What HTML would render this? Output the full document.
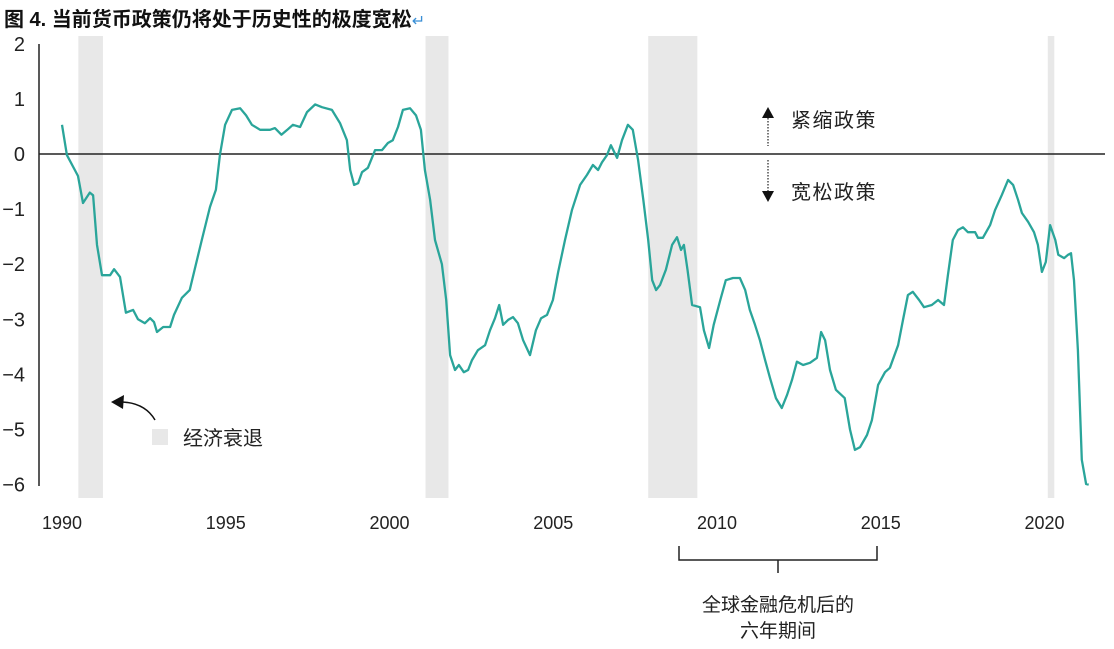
<!DOCTYPE html>
<html><head><meta charset="utf-8"><style>
body{margin:0;background:#fff;width:1114px;height:644px;overflow:hidden;font-family:"Liberation Sans","Noto Sans CJK SC",sans-serif;}
svg text{font-family:"Liberation Sans","Noto Sans CJK SC",sans-serif;}
</style></head><body>
<svg id="chart" width="1114" height="644" viewBox="0 0 1114 644" xmlns="http://www.w3.org/2000/svg">
<text x="4" y="26" font-size="20" font-weight="bold" fill="#111">图 4. 当前货币政策仍将处于历史性的极度宽松<tspan fill="#3a8fd6" font-weight="normal" font-size="16">↵</tspan></text>
<g id="bands"></g>
<line x1="39" y1="44" x2="39" y2="486" stroke="#222" stroke-width="1.5"/>
<line x1="39" y1="154" x2="1105" y2="154" stroke="#222" stroke-width="1.5"/>
<g id="yticks"></g>
<g id="xticks"></g>
<path id="line" fill="none" stroke="#2aa59a" stroke-width="2.3" stroke-linejoin="round"/>
<g>
<line x1="768" y1="118" x2="768" y2="146" stroke="#222" stroke-width="1.2" stroke-dasharray="1.5,1.5"/>
<polygon points="762,118 774,118 768,107" fill="#111"/>
<text x="791" y="127" font-size="20" letter-spacing="1.5" fill="#222">紧缩政策</text>
</g>
<g>
<line x1="768" y1="160" x2="768" y2="191" stroke="#222" stroke-width="1.2" stroke-dasharray="1.5,1.5"/>
<polygon points="762,191 774,191 768,202" fill="#111"/>
<text x="791" y="199" font-size="20" letter-spacing="1.5" fill="#222">宽松政策</text>
</g>
<g>
<path d="M155 420 Q145 403 122 402" fill="none" stroke="#111" stroke-width="1.5"/>
<polygon points="111,402 124,395 123,409" fill="#111"/>
<rect x="152" y="429" width="16" height="16" fill="#e8e8e8"/>
<text x="183" y="445" font-size="20" fill="#222">经济衰退</text>
</g>
<g>
<path d="M679 546 V560 H877 V546 M778 560 V573" fill="none" stroke="#222" stroke-width="1.5"/>
<text x="778" y="611" font-size="19" text-anchor="middle" fill="#222">全球金融危机后的</text>
<text x="778" y="637" font-size="19" text-anchor="middle" fill="#222">六年期间</text>
</g>
</svg>
<script>
const dates=[1990.0,1990.15,1990.4,1990.49,1990.64,1990.85,1990.95,1991.07,1991.22,1991.47,1991.59,1991.77,1991.95,1992.17,1992.32,1992.53,1992.69,1992.81,1992.9,1993.09,1993.3,1993.42,1993.66,1993.9,1994.06,1994.27,1994.52,1994.7,1994.82,1994.98,1995.19,1995.44,1995.62,1995.8,1996.05,1996.35,1996.5,1996.7,1996.88,1997.05,1997.27,1997.48,1997.73,1997.94,1998.24,1998.49,1998.7,1998.8,1998.92,1999.04,1999.16,1999.34,1999.56,1999.77,1999.95,2000.1,2000.26,2000.41,2000.63,2000.81,2000.96,2001.08,2001.24,2001.39,2001.6,2001.73,2001.85,2002.0,2002.12,2002.27,2002.4,2002.52,2002.7,2002.92,2003.07,2003.22,2003.35,2003.47,2003.62,2003.77,2003.92,2004.08,2004.29,2004.47,2004.63,2004.81,2004.99,2005.15,2005.36,2005.57,2005.82,2006.03,2006.21,2006.37,2006.49,2006.64,2006.76,2006.95,2007.1,2007.28,2007.43,2007.59,2007.75,2007.9,2008.02,2008.14,2008.26,2008.44,2008.63,2008.78,2008.9,2008.99,2009.1,2009.24,2009.48,2009.6,2009.76,2009.9,2010.1,2010.27,2010.49,2010.7,2010.86,2011.0,2011.16,2011.31,2011.47,2011.62,2011.8,2011.98,2012.14,2012.29,2012.44,2012.63,2012.84,2013.05,2013.18,2013.3,2013.45,2013.63,2013.9,2014.06,2014.21,2014.37,2014.58,2014.73,2014.92,2015.13,2015.28,2015.53,2015.68,2015.83,2015.98,2016.17,2016.32,2016.56,2016.75,2016.93,2017.05,2017.2,2017.36,2017.51,2017.66,2017.88,2017.97,2018.12,2018.34,2018.49,2018.7,2018.89,2019.04,2019.19,2019.31,2019.5,2019.68,2019.8,2019.92,2020.04,2020.17,2020.33,2020.42,2020.6,2020.72,2020.81,2020.9,2021.02,2021.14,2021.27,2021.35];
const values=[0.53,-0.02,-0.3,-0.4,-0.89,-0.7,-0.75,-1.65,-2.2,-2.2,-2.09,-2.23,-2.88,-2.83,-3.0,-3.07,-2.98,-3.05,-3.23,-3.14,-3.14,-2.92,-2.61,-2.47,-2.07,-1.56,-0.96,-0.65,-0.02,0.53,0.8,0.83,0.7,0.53,0.44,0.44,0.47,0.35,0.44,0.53,0.49,0.76,0.9,0.85,0.8,0.56,0.25,-0.29,-0.56,-0.53,-0.33,-0.25,0.07,0.07,0.2,0.25,0.49,0.8,0.83,0.7,0.44,-0.29,-0.83,-1.56,-2.0,-2.65,-3.65,-3.92,-3.83,-3.96,-3.92,-3.74,-3.56,-3.47,-3.2,-2.98,-2.74,-3.1,-3.01,-2.96,-3.07,-3.38,-3.65,-3.2,-2.98,-2.92,-2.65,-2.14,-1.56,-1.02,-0.56,-0.38,-0.2,-0.29,-0.15,-0.02,0.16,-0.07,0.25,0.53,0.44,-0.11,-0.83,-1.56,-2.29,-2.47,-2.38,-2.1,-1.65,-1.51,-1.74,-1.65,-2.1,-2.74,-2.78,-3.2,-3.52,-3.1,-2.65,-2.29,-2.25,-2.25,-2.47,-2.83,-3.1,-3.38,-3.74,-4.07,-4.43,-4.61,-4.37,-4.1,-3.77,-3.83,-3.79,-3.7,-3.23,-3.38,-3.92,-4.28,-4.43,-5.0,-5.37,-5.32,-5.1,-4.83,-4.19,-3.96,-3.88,-3.47,-3.01,-2.56,-2.5,-2.65,-2.78,-2.74,-2.65,-2.74,-2.2,-1.56,-1.38,-1.33,-1.42,-1.42,-1.52,-1.52,-1.29,-1.02,-0.74,-0.47,-0.56,-0.83,-1.07,-1.23,-1.42,-1.65,-2.14,-1.96,-1.29,-1.56,-1.83,-1.89,-1.83,-1.8,-2.29,-3.56,-5.55,-5.99,-6.0];
const yTicks=[2,1,0,-1,-2,-3,-4,-5,-6];
const yTickLabels=["2","1","0","−1","−2","−3","−4","−5","−6"];
const xTicks=[1990,1995,2000,2005,2010,2015,2020];
const recStart=[1990.5,2001.1,2007.9,2020.1];
const recEnd=[1991.25,2001.8,2009.4,2020.3];
const NS="http://www.w3.org/2000/svg";
const X=y=>62+32.75*(y-1990);
const Y=v=>154-55.1*v;
const bands=document.getElementById('bands');
recStart.forEach((s,i)=>{const r=document.createElementNS(NS,'rect');


r.setAttribute('x',X(s));r.setAttribute('y',36);r.setAttribute('width',X(recEnd[i])-X(s));r.setAttribute('height',462);r.setAttribute('fill','#e8e8e8');bands.appendChild(r);});
const yt=document.getElementById('yticks');
yTicks.forEach((v,i)=>{const t=document.createElementNS(NS,'text');


t.setAttribute('x',25);t.setAttribute('y',Y(v)+7);t.setAttribute('text-anchor','end');t.setAttribute('font-size','20');t.setAttribute('fill','#222');t.textContent=yTickLabels[i];yt.appendChild(t);});
const xt=document.getElementById('xticks');
xTicks.forEach(v=>{const t=document.createElementNS(NS,'text');


t.setAttribute('x',X(v));t.setAttribute('y',529);t.setAttribute('text-anchor','middle');t.setAttribute('font-size','18');t.setAttribute('fill','#222');t.textContent=v;xt.appendChild(t);});
document.getElementById('line').setAttribute('d',dates.map((d,i)=>(i?'L':'M')+X(d).toFixed(1)+' '+Y(values[i]).toFixed(1)).join(' '));
</script>
</body></html>
